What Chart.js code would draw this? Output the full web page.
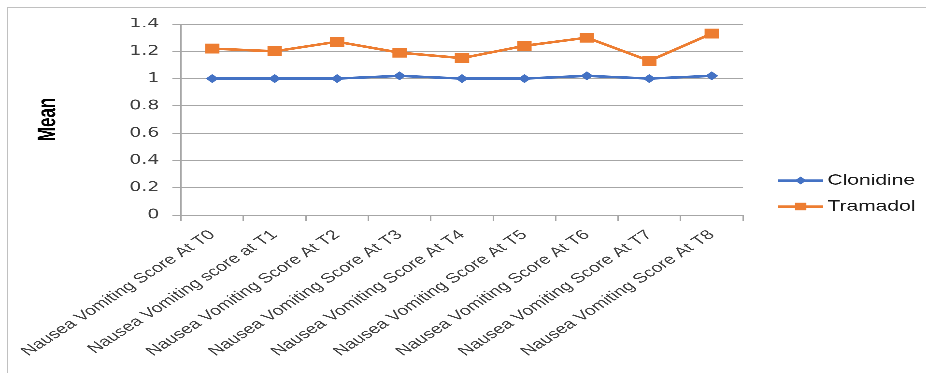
<!DOCTYPE html>
<html><head><meta charset="utf-8">
<script src="https://cdn.jsdelivr.net/npm/chart.js@4.4.0/dist/chart.umd.min.js"></script>
<style>
html,body{margin:0;padding:0;background:#fff;overflow:hidden;width:926px;height:373px;}
#frame{position:absolute;left:7px;top:7px;width:1000px;height:1000px;border-left:1px solid #c0c0c0;border-top:1px solid #c0c0c0;}
#wrap{position:absolute;left:0;top:0;width:639px;height:373px;transform:scaleX(1.44914);transform-origin:0 0;}
</style></head><body>
<div id="frame"></div>
<div id="wrap"><canvas id="c" width="639" height="373"></canvas></div>
<script>
const categories = [
  'Nausea Vomiting Score At T0',
  'Nausea Vomiting score at T1',
  'Nausea Vomiting Score At T2',
  'Nausea Vomiting Score At T3',
  'Nausea Vomiting Score At T4',
  'Nausea Vomiting Score At T5',
  'Nausea Vomiting Score At T6',
  'Nausea Vomiting Score At T7',
  'Nausea Vomiting Score At T8'
];
const clonidine = [1, 1, 1, 1.02, 1, 1, 1.02, 1, 1.02];
const tramadol = [1.22, 1.2, 1.27, 1.19, 1.15, 1.24, 1.3, 1.13, 1.33];
const yTickLabels = ['0', '0.2', '0.4', '0.6', '0.8', '1', '1.2', '1.4'];
const seriesNames = ['Clonidine', 'Tramadol'];

const BLUE = '#4472C4', ORANGE = '#ED7D31', GRID = '#a6a6a6';

function marker(ctx, style, x, y, r, color) {
  ctx.fillStyle = color;
  ctx.beginPath();
  if (style === 'rectRot') {
    ctx.moveTo(x - r, y); ctx.lineTo(x, y - r); ctx.lineTo(x + r, y); ctx.lineTo(x, y + r);
  } else {
    const s = r * Math.SQRT1_2;
    ctx.rect(x - s, y - s, 2 * s, 2 * s);
  }
  ctx.closePath();
  ctx.fill();
}

const legendPlugin = {
  id: 'customLegend',
  afterDraw(chart) {
    const ctx = chart.ctx;
    ctx.save();
    chart.data.datasets.forEach((ds, i) => {
      const y = 180.5 + i * 26;
      const x0 = 537, x1 = 568;
      ctx.strokeStyle = ds.borderColor;
      ctx.lineWidth = 2.25;
      ctx.beginPath(); ctx.moveTo(x0, y); ctx.lineTo(x1, y); ctx.stroke();
      marker(ctx, ds.pointStyle, (x0 + x1) / 2, y, ds.pointStyle === 'rect' ? 5.5 : 4, ds.borderColor);
      ctx.fillStyle = '#1a1a1a';
      ctx.font = '14.5px "Liberation Sans", Arial, sans-serif';
      ctx.textBaseline = 'middle';
      ctx.textAlign = 'left';
      ctx.fillText(ds.label, 571, y);
    });
    ctx.restore();
  }
};

new Chart(document.getElementById('c'), {
  type: 'line',
  data: {
    labels: categories,
    datasets: [
      { label: seriesNames[0], data: clonidine, borderColor: BLUE, backgroundColor: BLUE,
        borderWidth: 2.5, pointStyle: 'rectRot', pointRadius: 4.5, pointBorderWidth: 0, tension: 0 },
      { label: seriesNames[1], data: tramadol, borderColor: ORANGE, backgroundColor: ORANGE,
        borderWidth: 2.5, pointStyle: 'rect', pointRadius: 7, pointBorderWidth: 0, tension: 0 }
    ]
  },
  options: {
    responsive: false,
    animation: false,
    devicePixelRatio: 3,
    layout: { padding: { top: 24, right: 126.3, bottom: 0, left: 0 } },
    plugins: { legend: { display: false }, tooltip: { enabled: false } },
    scales: {
      x: {
        offset: true,
        grid: { display: true, drawOnChartArea: false, drawTicks: true, tickLength: 6, offset: true, color: GRID },
        border: { display: true, color: GRID },
        ticks: { autoSkip: false, minRotation: 43, maxRotation: 43, padding: 6, color: '#404040',
                 font: { family: '"Liberation Sans", Arial, sans-serif', size: 13.5 } },
        afterFit(scale) { scale.height = 158; }
      },
      y: {
        min: 0, max: 1.4,
        grid: { color: GRID, tickLength: 6, drawTicks: true },
        border: { display: true, color: GRID },
        ticks: { stepSize: 0.2, padding: 9, color: '#404040',
                 font: { family: '"DejaVu Sans", Verdana, sans-serif', size: 13 },
                 callback: (v, i) => yTickLabels[i] },
        title: { display: true, text: 'Mean', color: '#000', padding: { top: 23, bottom: 0 },
                 font: { family: '"Liberation Sans", Arial, sans-serif', size: 17, weight: 'bold' } },
        afterFit(scale) { scale.width = 124.9; }
      }
    }
  },
  plugins: [legendPlugin]
});
</script>
</body></html>
